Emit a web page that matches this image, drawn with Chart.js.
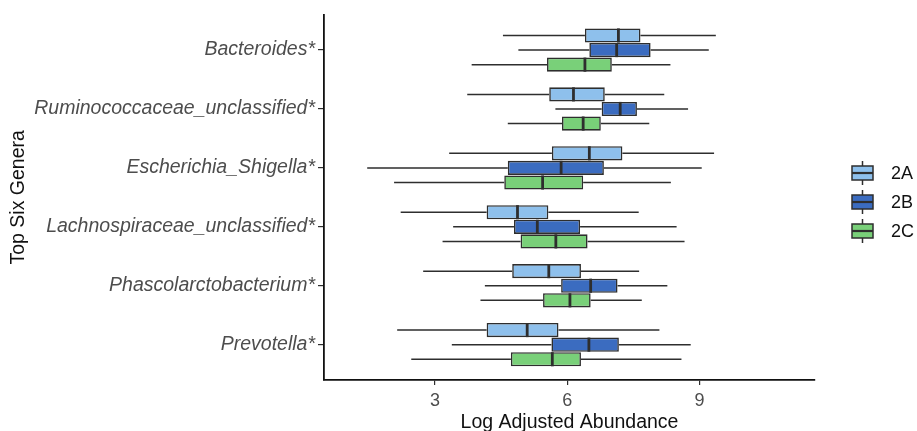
<!DOCTYPE html>
<html>
<head>
<meta charset="utf-8">
<script src="https://cdn.jsdelivr.net/npm/chart.js@4"></script>
<style>
  html, body { margin: 0; padding: 0; background: #fff; }
  #wrap { width: 917px; height: 431px; }
</style>
</head>
<body>
<div id="wrap"><canvas id="chart" width="917" height="431"></canvas></div>
<script>
// Géneros (de arriba hacia abajo)
const genera = ['Bacteroides*', 'Ruminococcaceae_unclassified*', 'Escherichia_Shigella*',
    'Lachnospiraceae_unclassified*', 'Phascolarctobacterium*', 'Prevotella*'];
const groups = ['2A', '2B', '2C'];
const xTicks = [3, 6, 9];

// Estadísticos de cada caja: bigote inferior, Q1, mediana, Q3, bigote superior
const lo2A  = [4.54, 3.73, 3.32, 2.22, 2.73, 2.14];
const q1_2A = [6.40, 5.59, 5.65, 4.17, 4.75, 4.17];
const med2A = [7.16, 6.14, 6.50, 4.87, 5.58, 5.09];
const q3_2A = [7.66, 6.85, 7.25, 5.57, 6.31, 5.80];
const hi2A  = [9.37, 8.20, 9.33, 7.62, 7.63, 8.09];

const lo2B  = [4.89, 5.73, 1.46, 3.41, 4.13, 3.38];
const q1_2B = [6.50, 6.78, 4.65, 4.79, 5.86, 5.64];
const med2B = [7.12, 7.20, 5.86, 5.32, 6.53, 6.49];
const q3_2B = [7.89, 7.58, 6.83, 6.29, 7.14, 7.17];
const hi2B  = [9.21, 8.74, 9.05, 8.48, 8.27, 8.80];

const lo2C  = [3.83, 4.65, 2.07, 3.17, 4.03, 2.46];
const q1_2C = [5.54, 5.88, 4.57, 4.94, 5.45, 4.72];
const med2C = [6.40, 6.36, 5.44, 5.74, 6.06, 5.66];
const q3_2C = [7.01, 6.76, 6.36, 6.46, 6.53, 6.31];
const hi2C  = [8.34, 7.86, 8.35, 8.66, 7.69, 8.59];

const stats = [
    { lo: lo2A, q1: q1_2A, med: med2A, q3: q3_2A, hi: hi2A },
    { lo: lo2B, q1: q1_2B, med: med2B, q3: q3_2B, hi: hi2B },
    { lo: lo2C, q1: q1_2C, med: med2C, q3: q3_2C, hi: hi2C }
];
const colors = ['#8ec0ec', '#3b6cc0', '#79d079'];
const lineColor = '#2e2e2e';

// Bigotes (detrás), medianas (encima) y leyenda
const boxplotPlugin = {
    id: 'boxplot',
    beforeDatasetsDraw(chart) {
        const ctx = chart.ctx;
        const xs = chart.scales.x;
        ctx.save();
        ctx.strokeStyle = lineColor;
        ctx.lineWidth = 1.5;
        chart.data.datasets.forEach((ds, d) => {
            chart.getDatasetMeta(d).data.forEach((el, i) => {
                const s = stats[d];
                ctx.beginPath();
                ctx.moveTo(xs.getPixelForValue(s.lo[i]), el.y);
                ctx.lineTo(xs.getPixelForValue(s.q1[i]), el.y);
                ctx.moveTo(xs.getPixelForValue(s.q3[i]), el.y);
                ctx.lineTo(xs.getPixelForValue(s.hi[i]), el.y);
                ctx.stroke();
            });
        });
        ctx.restore();
    },
    afterDatasetsDraw(chart) {
        const ctx = chart.ctx;
        const xs = chart.scales.x;
        ctx.save();
        ctx.strokeStyle = lineColor;
        ctx.lineWidth = 2.8;
        chart.data.datasets.forEach((ds, d) => {
            chart.getDatasetMeta(d).data.forEach((el, i) => {
                const x = xs.getPixelForValue(stats[d].med[i]);
                ctx.beginPath();
                ctx.moveTo(x, el.y - el.height / 2);
                ctx.lineTo(x, el.y + el.height / 2);
                ctx.stroke();
            });
        });
        ctx.restore();
    },
    afterDraw(chart) {
        const ctx = chart.ctx;
        ctx.save();
        groups.forEach((g, k) => {
            const cy = 173 + k * 29;
            const x0 = 852, w = 21, h = 14;
            ctx.strokeStyle = lineColor;
            ctx.lineWidth = 1.5;
            ctx.beginPath();
            ctx.moveTo(x0 + w / 2, cy - h / 2 - 5);
            ctx.lineTo(x0 + w / 2, cy + h / 2 + 5);
            ctx.stroke();
            ctx.fillStyle = colors[k];
            ctx.fillRect(x0, cy - h / 2, w, h);
            ctx.strokeRect(x0, cy - h / 2, w, h);
            ctx.lineWidth = 2.2;
            ctx.beginPath();
            ctx.moveTo(x0, cy);
            ctx.lineTo(x0 + w, cy);
            ctx.stroke();
            ctx.fillStyle = '#111';
            ctx.font = '18px "Liberation Sans", Arial, sans-serif';
            ctx.textBaseline = 'middle';
            ctx.fillText(g, 891, cy + 1);
        });
        ctx.restore();
    }
};

const datasets = groups.map((g, d) => ({
    label: g,
    data: genera.map((name, i) => ({ y: i, x: [stats[d].q1[i], stats[d].q3[i]] })),
    backgroundColor: colors[d],
    borderColor: lineColor,
    borderWidth: 1.6,
    borderSkipped: false,
    categoryPercentage: 0.743,
    barPercentage: 0.97
}));

const font = '"Liberation Sans", Arial, sans-serif';

new Chart(document.getElementById('chart'), {
    type: 'bar',
    data: { datasets },
    options: {
        indexAxis: 'y',
        responsive: false,
        animation: false,
        layout: { padding: { top: 12, right: 102, bottom: 0, left: 0 } },
        plugins: { legend: { display: false }, tooltip: { enabled: false } },
        scales: {
            y: {
                type: 'linear',
                reverse: true,
                offset: false,
                min: -0.6,
                max: 5.6,
                afterBuildTicks: s => { s.ticks = genera.map((g, i) => ({ value: i })); },
                afterFit: s => { s.width = 324; },
                ticks: {
                    autoSkip: false,
                    callback: v => genera[v],
                    font: { family: font, size: 19.5, style: 'italic' },
                    color: '#4d4d4d',
                    padding: 3
                },
                grid: { offset: false, drawOnChartArea: false, tickLength: 6, color: lineColor, lineWidth: 1.2 },
                border: { color: '#111', width: 1.8 },
                title: { display: true, text: 'Top Six Genera', color: '#111', font: { family: font, size: 19.5 }, padding: { top: 7, bottom: 4 } }
            },
            x: {
                type: 'linear',
                min: 0.48,
                max: 11.62,
                afterBuildTicks: s => { s.ticks = xTicks.map(v => ({ value: v })); },
                afterFit: s => { s.height = 51; },
                ticks: {
                    font: { family: font, size: 18 },
                    color: '#4d4d4d',
                    padding: 5
                },
                grid: { drawOnChartArea: false, tickLength: 5, color: lineColor, lineWidth: 1.2 },
                border: { color: '#111', width: 1.8 },
                title: { display: true, text: 'Log Adjusted Abundance', color: '#111', font: { family: font, size: 19.5 }, padding: { top: 0, bottom: -3 } }
            }
        }
    },
    plugins: [boxplotPlugin]
});
</script>
</body>
</html>
